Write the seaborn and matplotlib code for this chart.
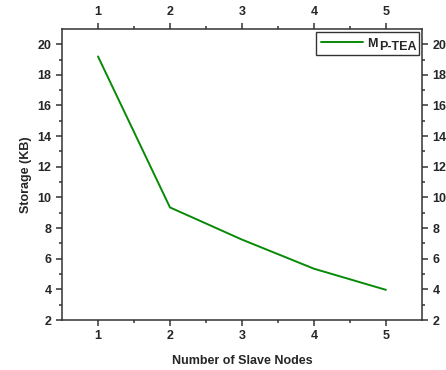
import matplotlib
matplotlib.use("Agg")
import matplotlib.pyplot as plt
import seaborn as sns
import pandas as pd

nodes = [1, 2, 3, 4, 5]
storage = [19.2, 9.35, 7.25, 5.35, 3.97]
series_main = "M"
series_sub = "P-TEA"

sns.set_style("ticks")
plt.rcParams['font.family'] = ['Liberation Sans', 'DejaVu Sans']
plt.rcParams['font.weight'] = 'bold'

df = pd.DataFrame({"nodes": nodes, "storage": storage})

fig = plt.figure(figsize=(4.46, 3.70), dpi=100)
ax = fig.add_axes([0.139, 0.135, 0.807, 0.787])
sns.lineplot(data=df, x="nodes", y="storage", ax=ax, color="#078a07",
             linewidth=1.4, label=series_main + " " * 10)

ax.set_xlim(0.5, 5.5)
ax.set_ylim(2, 21)
ax.set_xticks([1, 2, 3, 4, 5])
ax.set_xticks([1.5, 2.5, 3.5, 4.5], minor=True)
ax.set_yticks(range(2, 21, 2))
ax.set_yticks(range(3, 21, 2), minor=True)
for s in ax.spines.values():
    s.set_linewidth(1.1)
    s.set_color("#333333")
ax.tick_params(which='both', direction='out', top=True, right=True,
               labeltop=True, labelright=True, labelsize=9, color="#333333", width=1.1)
ax.tick_params(which='major', length=4)
ax.tick_params(which='minor', length=2.5)
for lab in ax.get_xticklabels() + ax.get_yticklabels():
    lab.set_fontweight('bold')
ax.set_xlabel("Number of Slave Nodes", fontsize=9, fontweight='bold', labelpad=9)
ax.set_ylabel("Storage (KB)", fontsize=9, fontweight='bold', labelpad=4)

leg = ax.legend(loc='upper right', fontsize=9, frameon=True, fancybox=False,
                edgecolor='black', handlelength=3.3, borderpad=0.45,
                borderaxespad=0.25, handletextpad=0.4)
leg.get_frame().set_linewidth(1.0)

fig.canvas.draw()
txt = leg.get_texts()[0]
bb = txt.get_window_extent()
tm = fig.text(0, 0, series_main, fontsize=9, fontweight='bold')
wm = tm.get_window_extent(fig.canvas.get_renderer()).width
tm.remove()
fig.text((bb.x0 + wm + 0.5) / fig.bbox.width, (bb.y0 - 3.5) / fig.bbox.height,
         series_sub, fontsize=9, fontweight='bold', ha='left', va='bottom')

fig.savefig("out.png", dpi=100)
